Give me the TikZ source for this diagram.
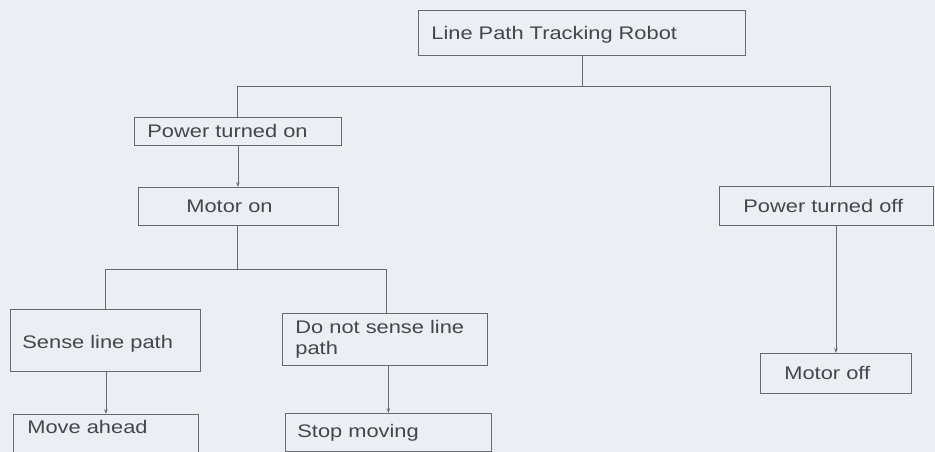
\documentclass[tikz,border=0pt]{standalone}
\usepackage{fontspec}
\setmainfont{Liberation Sans}[FakeStretch=1.2]
\usetikzlibrary{arrows.meta}
\definecolor{bg}{HTML}{ECEEF3}
\definecolor{linec}{HTML}{6A6A6E}
\definecolor{txt}{HTML}{45454A}
\begin{document}
\begin{tikzpicture}[x=1pt,y=-1pt,
  bx/.style={draw=linec, line width=0.8pt, anchor=north west, align=left,
    inner ysep=0pt, text=txt, font=\fontsize{18.2}{21}\selectfont},
  conn/.style={draw=linec, line width=0.8pt},
  arr/.style={conn, -{Stealth[length=5pt,width=3.5pt]}}]
\fill[bg] (0,0) rectangle (935,452);
\clip (0,0) rectangle (935,452);
% boxes
\node[bx, inner xsep=13, text width=301, text height=29, text depth=16] (top) at (418,10) {Line Path Tracking Robot};
\node[bx, minimum height=28, inner xsep=13, text width=181] (pon) at (134,117) {Power turned on};
\node[bx, minimum height=38, inner xsep=48, text width=104] (mon) at (138,187) {Motor on};
\node[bx, minimum height=39, inner xsep=24, text width=166] (poff) at (719,186) {Power turned off};
\node[bx, minimum height=40, inner xsep=24, text width=103] (moff) at (760,353) {Motor off};
\node[bx, inner xsep=12, text width=166, text height=39, text depth=23] (sense) at (10,309) {Sense line path};
\node[bx, minimum height=52, inner xsep=13, text width=179] (dns) at (282,313) {Do not sense line\\path};
\node[bx, inner xsep=14, text width=157, text height=19, text depth=27] (move) at (13,414) {Move ahead};
\node[bx, minimum height=38, inner xsep=12, text width=182] (stop) at (285,413) {Stop moving};
% junctions
\coordinate (jt) at (582,86);
\coordinate (jl) at (237,86);
\coordinate (jr) at (830,86);
\coordinate (jm) at (237,269);
\coordinate (jml) at (105,269);
\coordinate (jmr) at (386,269);
% connectors
\draw[conn] (top.south -| jt) -- (jt);
\draw[conn] (pon.north -| jl) -- (jl) -- (jr) -- (poff.north -| jr);
\draw[arr] (pon.south) -- (mon.north -| pon.south);
\draw[conn] (mon.south -| jm) -- (jm);
\draw[conn] (sense.north -| jml) -- (jml) -- (jmr) -- (dns.north -| jmr);
\draw[arr] (sense.south -| move.north) -- (move.north);
\draw[arr] (dns.south -| stop.north) -- (stop.north);
\draw[arr] (poff.south -| moff.north) -- (moff.north);
\end{tikzpicture}
\end{document}
